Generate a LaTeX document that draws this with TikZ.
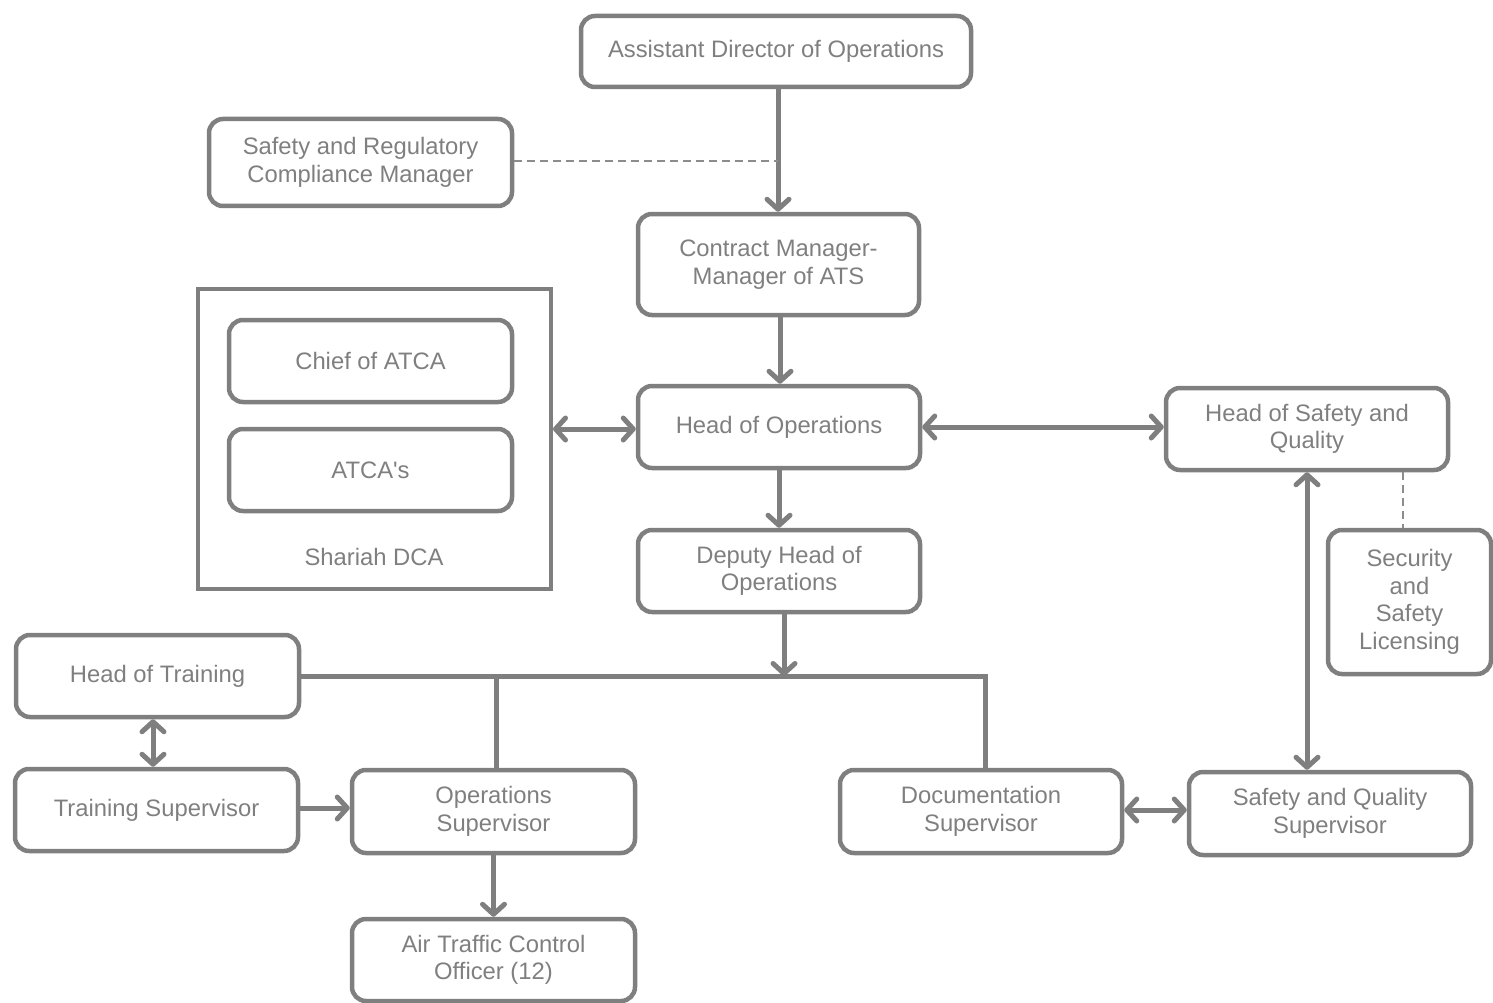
\documentclass[tikz,border=0pt]{standalone}
\usepackage{fontspec}
\setmainfont{Liberation Sans}[Ligatures=TeXOff]
\usetikzlibrary{arrows.meta}
\definecolor{lc}{HTML}{7F7F7F}
\definecolor{dc}{HTML}{8C8C8C}
\begin{document}
\begin{tikzpicture}[x=1pt,y=-1pt,
  box/.style={draw=lc,line width=4.5pt,rounded corners=14pt,text=lc,align=center,inner sep=0pt,
    font=\fontsize{23.8}{27.6}\selectfont},
  frame/.style={draw=lc,line width=4pt,inner sep=0pt},
  conn/.style={draw=lc,line width=5pt},
  dash line/.style={draw=dc,line width=2pt,dash pattern=on 8pt off 5pt},
  >={Straight Barb[length=10pt,width=22pt,round]}]
\useasboundingbox (0,0) rectangle (1493,1003);
\node[box,minimum width=390pt,minimum height=71pt] (ado) at (776,51.5) {Assistant Director of Operations};
\node[box,minimum width=303pt,minimum height=87pt] (src) at (360.5,162.5) {Safety and Regulatory\\Compliance Manager};
\node[box,minimum width=281pt,minimum height=101pt] (cm) at (778.5,264.5) {Contract Manager-\\Manager of ATS};
\node[frame,minimum width=353pt,minimum height=300pt] (dca) at (374.5,439) {};
\node[box,minimum width=283pt,minimum height=82pt] (chief) at (370.5,361) {Chief of ATCA};
\node[box,minimum width=283pt,minimum height=82pt] (atcas) at (370.5,470) {ATCA's};
\node[text=lc,font=\fontsize{23.8}{27.6}\selectfont] (dcalbl) at (374,557) {Shariah DCA};
\node[box,minimum width=282pt,minimum height=82pt] (hoo) at (779,427) {Head of Operations};
\node[box,minimum width=282pt,minimum height=82pt] (hsq) at (1307,429) {Head of Safety and\\Quality};
\node[box,minimum width=282pt,minimum height=82pt] (dho) at (779,571) {Deputy Head of\\Operations};
\node[box,minimum width=163pt,minimum height=144pt] (ssl) at (1409.5,602) {Security\\and\\Safety\\Licensing};
\node[box,minimum width=283pt,minimum height=82pt] (ht) at (157.5,676) {Head of Training};
\node[box,minimum width=283pt,minimum height=82pt] (ts) at (156.5,810) {Training Supervisor};
\node[box,minimum width=283pt,minimum height=83pt] (os) at (493.5,811.5) {Operations\\Supervisor};
\node[box,minimum width=282pt,minimum height=83pt] (ds) at (981,811.5) {Documentation\\Supervisor};
\node[box,minimum width=282pt,minimum height=83pt] (sqs) at (1330,813.5) {Safety and Quality\\Supervisor};
\node[box,minimum width=283pt,minimum height=82pt] (atc) at (493.5,960) {Air Traffic Control\\Officer (12)};
% coordinates
\coordinate (jn) at (784,676);
\coordinate (tee) at (496,676);
\coordinate (crn) at (985,676);
\coordinate (dx) at (1403,0);
\coordinate (tx) at (153,0);
% connectors
\draw[conn,->] (ado.south -| 778,0) -- (cm.north -| 778,0);
\draw[dash line] (src.east |- 0,161) -- (778,161);
\draw[conn,->] (cm.south -| 780,0) -- (hoo.north -| 780,0);
\draw[conn,<->] (dca.east |- 0,429) -- (hoo.west |- 0,429);
\draw[conn,<->] (hoo.east |- 0,427) -- (hsq.west |- 0,427);
\draw[conn,->] (hoo.south) -- (dho.north);
\draw[conn,->] (dho.south -| jn) -- (jn);
\draw[conn] (ht.east) -- (crn) -- (crn |- ds.north);
\draw[conn] (tee) -- (tee |- os.north);
\draw[conn,<->] (hsq.south) -- (hsq.south |- sqs.north);
\draw[dash line] (hsq.south -| dx) -- (ssl.north -| dx);
\draw[conn,<->] (ht.south -| tx) -- (ts.north -| tx);
\draw[conn,->] (ts.east |- 0,808) -- (os.west |- 0,808);
\draw[conn,->] (os.south) -- (atc.north);
\draw[conn,<->] (ds.east |- 0,810) -- (sqs.west |- 0,810);
\end{tikzpicture}
\end{document}
